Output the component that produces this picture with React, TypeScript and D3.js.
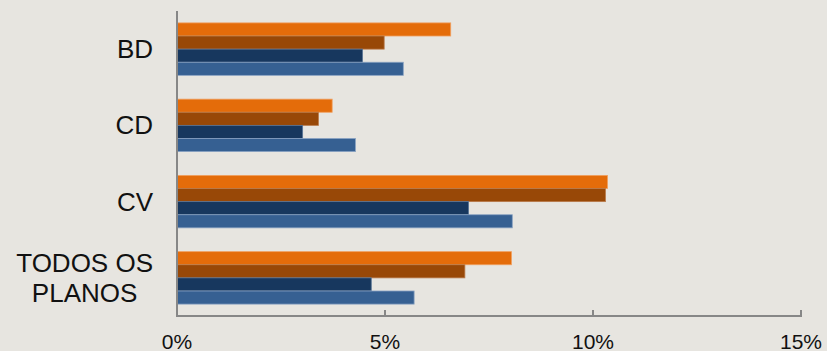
import React from "react";
import * as d3 from "d3";

const categories: string[][] = [["BD"], ["CD"], ["CV"], ["TODOS OS", "PLANOS"]];
const seriesNames = ["S1", "S2", "S3", "S4"];
const seriesColors = ["#E46C0A", "#984807", "#17375E", "#366092"];
const seriesStroke = ["#F0A060", "#B87A4A", "#5A7596", "#8AA3C3"];
const valuesS1 = [6.58, 3.73, 10.35, 8.04];
const valuesS2 = [4.98, 3.40, 10.30, 6.92];
const valuesS3 = [4.46, 3.02, 7.01, 4.67];
const valuesS4 = [5.44, 4.29, 8.06, 5.70];
const series = [valuesS1, valuesS2, valuesS3, valuesS4];
const tickValues = [0, 5, 10, 15];
const tickLabels = ["0%", "5%", "10%", "15%"];

const W = 827;
const H = 351;
const left = 177;
const right = 801;
const top = 11;
const bottom = 316;

function measure(text: string, font: string): number {
  const c = document.createElement("canvas");
  const ctx = c.getContext("2d");
  if (!ctx) return text.length * 14;
  ctx.font = font;
  return ctx.measureText(text).width;
}

export default function App() {
  const x = d3.scaleLinear().domain([0, 15]).range([left, right]);
  const y = d3
    .scaleBand<number>()
    .domain(d3.range(categories.length))
    .range([top, bottom])
    .paddingInner(0.312)
    .paddingOuter(0.156);
  const inner = d3
    .scaleBand<number>()
    .domain(d3.range(seriesNames.length))
    .range([0, y.bandwidth()]);

  const labelSize = 26;
  const labelFont = `${labelSize}px 'Liberation Sans', Arial, sans-serif`;
  const labelRight = 153;

  return (
    <svg
      width={W}
      height={H}
      style={{ position: "absolute", left: 0, top: 0, display: "block" }}
      fontFamily="'Liberation Sans', Arial, sans-serif"
    >
      <rect x={0} y={0} width={W} height={H} fill="#e7e5e0" />
      {categories.map((lines, ci) => {
        const y0 = y(ci)!;
        return (
          <g key={ci}>
            {series.map((vals, si) => (
              <rect
                key={si}
                x={x(0)}
                y={y0 + inner(si)!}
                width={x(vals[ci]) - x(0)}
                height={inner.bandwidth()}
                fill={seriesColors[si]}
                stroke={seriesStroke[si]}
                strokeWidth={0.8}
              />
            ))}
          </g>
        );
      })}
      {categories.map((lines, ci) => {
        const cy = y(ci)! + y.bandwidth() / 2;
        const lh = 29.5;
        const maxW = Math.max(...lines.map((l) => measure(l, labelFont)));
        const cx = labelRight - maxW / 2;
        const startY = cy - ((lines.length - 1) * lh) / 2 + 9;
        return (
          <text key={ci} fontSize={labelSize} fill="#111" textAnchor="middle">
            {lines.map((l, li) => (
              <tspan key={li} x={cx} y={startY + li * lh}>
                {l}
              </tspan>
            ))}
          </text>
        );
      })}
      <line x1={left} x2={left} y1={top} y2={bottom} stroke="#878787" strokeWidth={2} />
      <line x1={left - 1} x2={right + 1} y1={bottom} y2={bottom} stroke="#878787" strokeWidth={2} />
      {tickValues.map((t, i) => (
        <g key={t}>
          {i > 0 && (
            <line x1={x(t)} x2={x(t)} y1={bottom - 6} y2={bottom} stroke="#878787" strokeWidth={2} />
          )}
          <text x={x(t)} y={348.5} fontSize={21} textAnchor="middle" fill="#111">
            {tickLabels[i]}
          </text>
        </g>
      ))}
    </svg>
  );
}
